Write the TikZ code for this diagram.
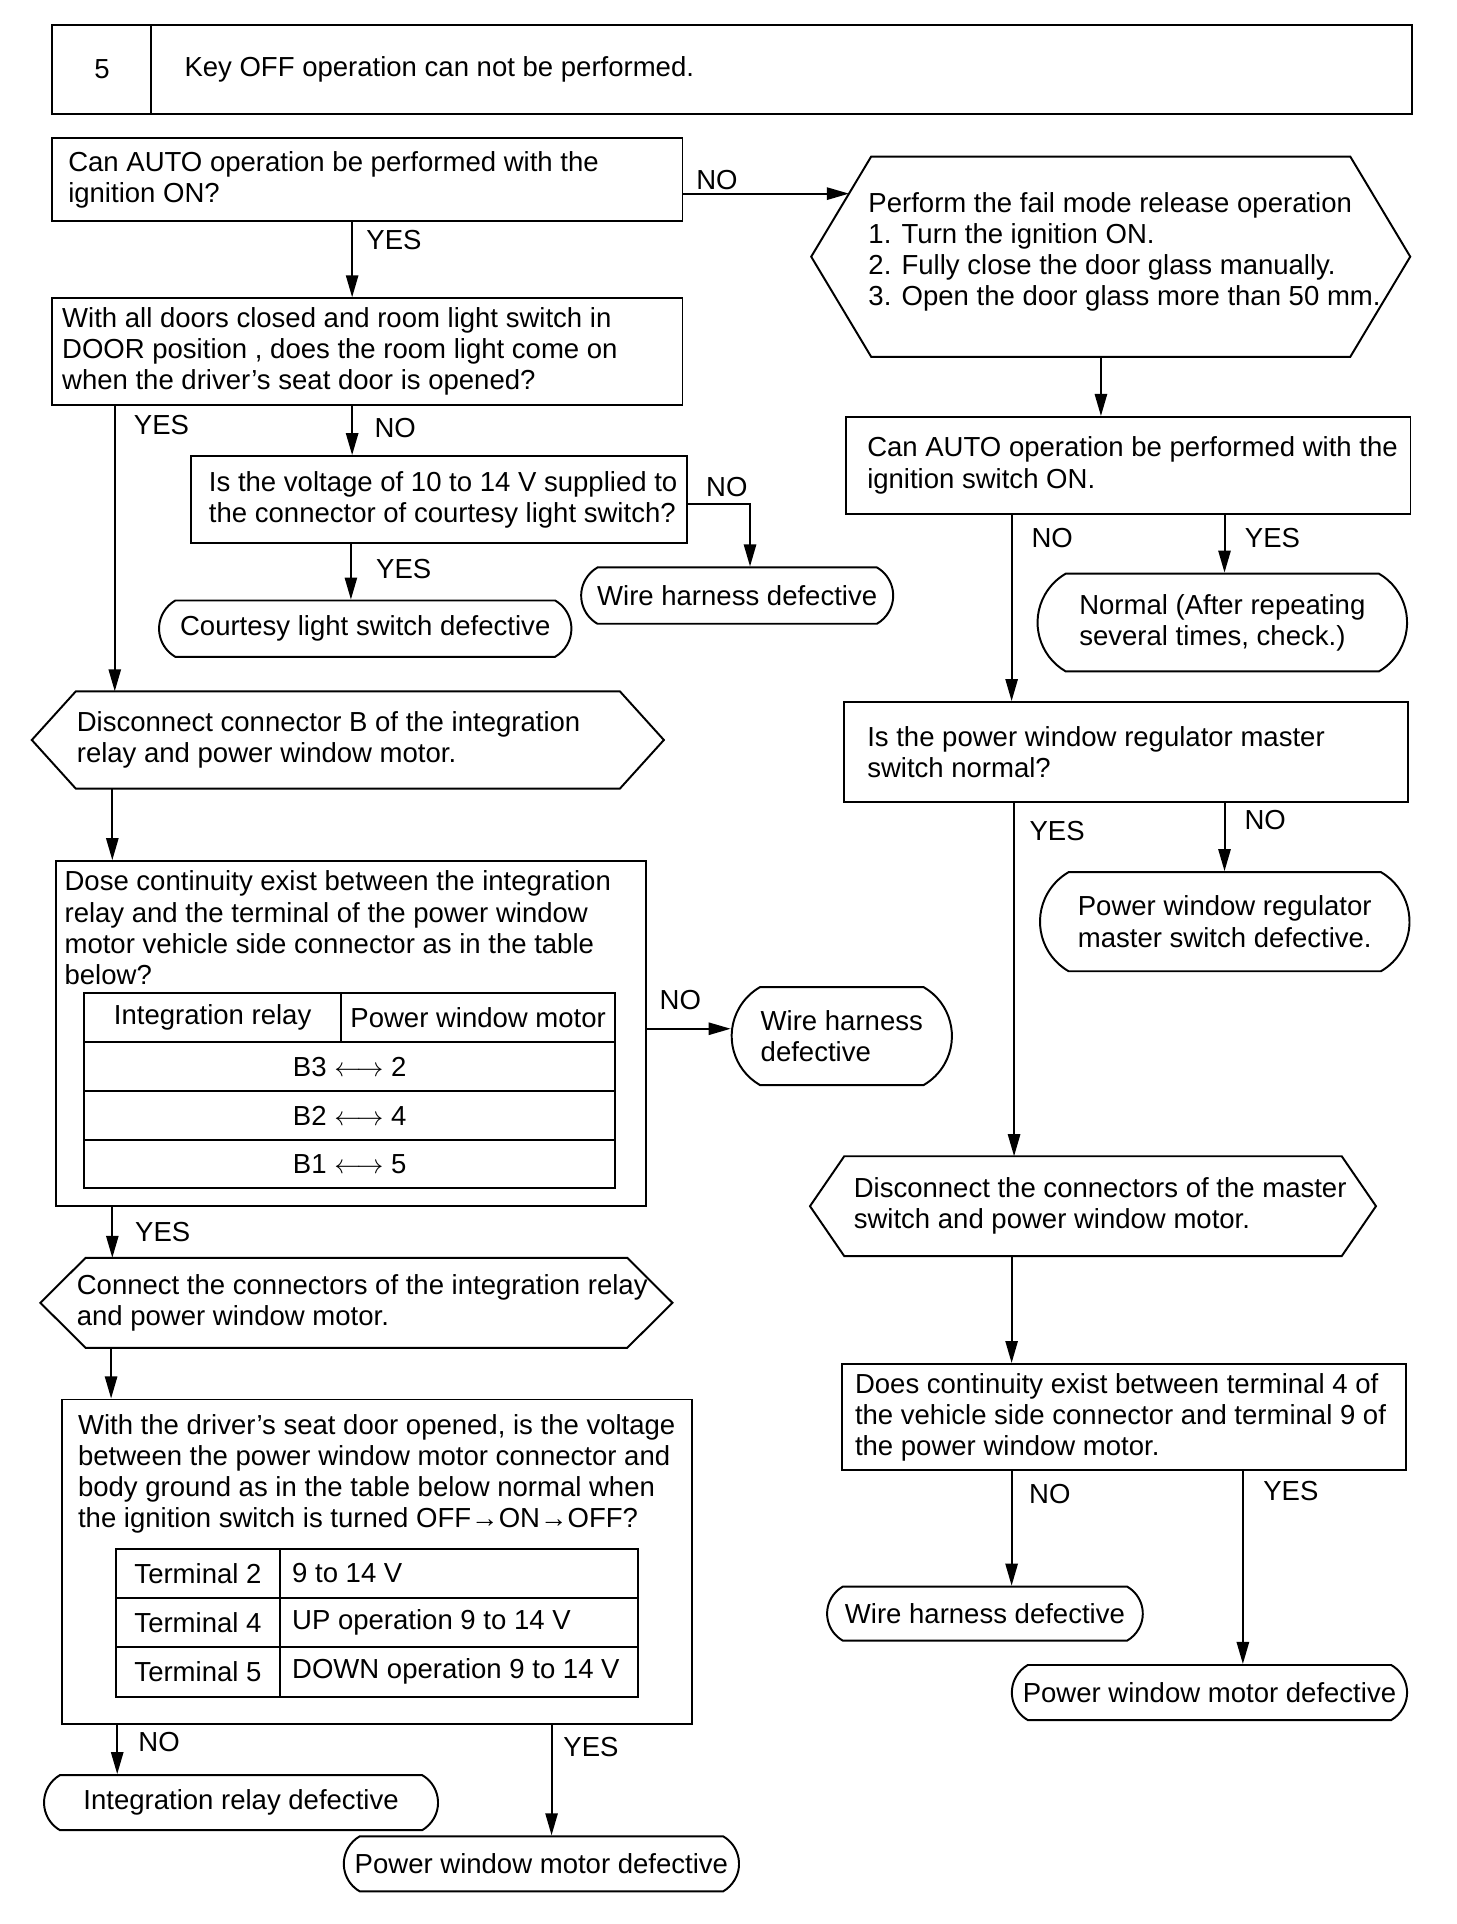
\documentclass[tikz,border=0pt]{standalone}
\usepackage{fontspec}
\setmainfont{Liberation Sans}
\usepackage{tikz}
\usetikzlibrary{positioning, arrows.meta, shapes.misc, calc}
\tikzstyle{qbox} = [
    rectangle,
    draw,
    anchor = north west,
    inner sep = 0pt
]
\tikzstyle{hexbox} = [
    rectangle,
    anchor = north west,
    inner sep = 0pt
]
\tikzstyle{txt} = [
    inner sep = 0pt,
    align = left
]
\tikzstyle{endbox} = [
    rounded rectangle,
    rounded rectangle arc length = 120,
    draw,
    anchor = north,
    inner sep = 0pt,
    align = left
]
\tikzstyle{cell} = [
    rectangle,
    draw,
    anchor = north west,
    inner sep = 0pt
]
\tikzstyle{lbl} = [inner sep = 0pt]
\tikzstyle{arr} = [-{Triangle[length=9pt, width=5pt]}]
\newcommand{\hexframe}[2]{%
    \draw (#1.west) -- ([xshift=#2]#1.north west) -- ([xshift=-#2]#1.north east)
        -- (#1.east) -- ([xshift=-#2]#1.south east) -- ([xshift=#2]#1.south west) -- cycle;}

\begin{document}
\begin{tikzpicture}[x=0.5pt, y=-0.5pt, line width=0.8pt, font=\fontsize{11.25}{12.75}\selectfont]
    \useasboundingbox (0,0) rectangle (1190,1572.5);

    % title
    \node[qbox, minimum width=40.5pt, minimum height=36pt] (num) at (42,20) {5};
    \node[qbox, minimum width=515pt, minimum height=36pt] (title) at (123,20) {};
    \node[txt, right=13.5pt of title.west] (titlet) {Key OFF operation can not be performed.};

    % left column
    \node[qbox, minimum width=257.5pt, minimum height=34pt] (auto) at (42,112) {};
    \node[txt, right=6.5pt of auto.west] (autot) {Can AUTO operation be performed with the\\ignition ON?};
    \node[qbox, minimum width=257.5pt, minimum height=43.5pt] (door) at (42,243) {};
    \node[txt, right=4pt of door.west] (doort)
        {With all doors closed and room light switch in\\DOOR position , does the room light come on\\when the driver’s seat door is opened?};
    \node[qbox, minimum width=203pt, minimum height=35.5pt] (volt) at (155,372) {};
    \node[txt, right=7.5pt of volt.west] (voltt) {Is the voltage of 10 to 14 V supplied to\\the connector of courtesy light switch?};
    \node[endbox, minimum width=127.5pt, minimum height=23pt] (wire1) at (602.5,463) {Wire harness defective};
    \node[endbox, minimum width=168.5pt, minimum height=23pt] (courtesy) at (298.5,490) {Courtesy light switch defective};

    \node[hexbox, minimum width=257.5pt, minimum height=39pt] (discB) at (26,565) {};
    \hexframe{discB}{18pt}
    \node[txt, right=18pt of discB.west] (discBt) {Disconnect connector B of the integration\\relay and power window motor.};

    \node[qbox, minimum width=241pt, minimum height=141pt] (cont) at (45,703) {};
    \node[txt, anchor=north west] (contt) at (52,711)
        {Dose continuity exist between the integration\\relay and the terminal of the power window\\motor vehicle side connector as in the table\\below?};
    \node[cell, minimum width=105pt, minimum height=20pt] (ch1) at (68,811) {Integration relay};
    \node[cell, minimum width=112pt, minimum height=20pt] (ch2) at (278,811) {Power window motor};
    \node[cell, minimum width=217pt, minimum height=20pt] (cr1) at (68,851) {B3 $\longleftrightarrow$ 2};
    \node[cell, minimum width=217pt, minimum height=20pt] (cr2) at (68,891) {B2 $\longleftrightarrow$ 4};
    \node[cell, minimum width=217pt, minimum height=19.5pt] (cr3) at (68,931) {B1 $\longleftrightarrow$ 5};
    \node[endbox, minimum width=90pt, minimum height=40pt] (wire2) at (688,806) {Wire harness\\defective};

    \node[hexbox, minimum width=257.5pt, minimum height=36pt] (conn) at (33,1028) {};
    \hexframe{conn}{18.5pt}
    \node[txt, right=14.5pt of conn.west] (connt) {Connect the connectors of the integration relay\\and power window motor.};

    \node[qbox, minimum width=257.5pt, minimum height=132.5pt] (volt2) at (50,1143) {};
    \node[txt, anchor=north west] (volt2t) at (63,1155)
        {With the driver’s seat door opened, is the voltage\\between the power window motor connector and\\body ground as in the table below normal when\\the ignition switch is turned OFF→ON→OFF?};
    \node[cell, minimum width=67pt, minimum height=20pt] (t21) at (94,1265) {Terminal 2};
    \node[cell, minimum width=146.5pt, minimum height=20pt] (t22) at (228,1265) {};
    \node[txt, right=5pt of t22.west] (t22t) {9 to 14 V};
    \node[cell, minimum width=67pt, minimum height=20pt] (t41) at (94,1305) {Terminal 4};
    \node[cell, minimum width=146.5pt, minimum height=20pt] (t42) at (228,1305) {};
    \node[txt, right=5pt of t42.west] (t42t) {UP operation 9 to 14 V};
    \node[cell, minimum width=67pt, minimum height=20.5pt] (t51) at (94,1345) {Terminal 5};
    \node[cell, minimum width=146.5pt, minimum height=20.5pt] (t52) at (228,1345) {};
    \node[txt, right=5pt of t52.west] (t52t) {DOWN operation 9 to 14 V};

    \node[endbox, minimum width=161pt, minimum height=22.5pt] (relay) at (197,1450) {Integration relay defective};
    \node[endbox, minimum width=161.5pt, minimum height=22.5pt] (motor1) at (442.5,1500) {Power window motor defective};

    % right column
    \node[hexbox, minimum width=244pt, minimum height=81pt] (fail) at (663,128) {};
    \hexframe{fail}{24.5pt}
    \node[txt, right=23pt of fail.west, yshift=2pt] (failt)
        {Perform the fail mode release operation\\1. Turn the ignition ON.\\2. Fully close the door glass manually.\\3. Open the door glass more than 50 mm.};
    \coordinate (failin) at ($(fail.west)!0.63!([xshift=24.5pt]fail.north west)$);

    \node[qbox, minimum width=230.5pt, minimum height=39.5pt] (auto2) at (691,340) {};
    \node[txt, right=8.5pt of auto2.west] (auto2t) {Can AUTO operation be performed with the\\ignition switch ON.};
    \node[endbox, minimum width=151pt, minimum height=40pt] (normal) at (999,468) {Normal (After repeating\\several times, check.)};
    \node[qbox, minimum width=230.5pt, minimum height=41pt] (master) at (689,573) {};
    \node[txt, right=9.5pt of master.west] (mastert) {Is the power window regulator master\\switch normal?};
    \node[endbox, minimum width=151pt, minimum height=40.5pt] (regul) at (1001,712) {Power window regulator\\master switch defective.};

    \node[hexbox, minimum width=230.5pt, minimum height=40pt] (discM) at (662,945) {};
    \hexframe{discM}{14pt}
    \node[txt, right=17.5pt of discM.west] (discMt) {Disconnect the connectors of the master\\switch and power window motor.};

    \node[qbox, minimum width=230.5pt, minimum height=43.5pt] (cont2) at (687,1114) {};
    \node[txt, right=5.5pt of cont2.west] (cont2t)
        {Does continuity exist between terminal 4 of\\the vehicle side connector and terminal 9 of\\the power window motor.};
    \node[endbox, minimum width=129pt, minimum height=22pt] (wire3) at (805,1296) {Wire harness defective};
    \node[endbox, minimum width=161.5pt, minimum height=22.5pt] (motor2) at (988.5,1360) {Power window motor defective};

    % connectors
    \draw[arr] ([xshift=-6.25pt]auto.south) -- ([xshift=-6.25pt]auto.south |- door.north);
    \draw[arr] (auto.east |- failin) -- (failin);
    \draw[arr] ([xshift=-103.25pt]door.south) -- ([xshift=-103.25pt]door.south |- discB.north);
    \draw[arr] ([xshift=-6.25pt]door.south) -- ([xshift=-6.25pt]door.south |- volt.north);
    \draw[arr] ([yshift=-1.75pt]volt.east) -| ([xshift=5.25pt]wire1.north);
    \draw[arr] ([xshift=-36pt]volt.south) -- ([xshift=-36pt]volt.south |- courtesy.north);
    \draw[arr] ([xshift=-96.25pt]discB.south) -- ([xshift=-96.25pt]discB.south |- cont.north);
    \draw[arr] ([yshift=2pt]cont.east) -- ([yshift=2pt]cont.east -| wire2.west);
    \draw[arr] ([xshift=-97.5pt]cont.south) -- ([xshift=-97.5pt]cont.south |- conn.north);
    \draw[arr] ([xshift=-100.25pt]conn.south) -- ([xshift=-100.25pt]conn.south |- volt2.north);
    \draw[arr] ([xshift=-106.25pt]volt2.south) -- ([xshift=-106.25pt]volt2.south |- relay.north);
    \draw[arr] ([xshift=71.25pt]volt2.south) -- ([xshift=71.25pt]volt2.south |- motor1.north);
    \draw[arr] ([xshift=-4pt]fail.south) -- ([xshift=-4pt]fail.south |- auto2.north);
    \draw[arr] ([xshift=-47.75pt]auto2.south) -- ([xshift=-47.75pt]auto2.south |- master.north);
    \draw[arr] ([xshift=39.25pt]auto2.south) -- ([xshift=39.25pt]auto2.south |- normal.north);
    \draw[arr] ([xshift=-45.75pt]master.south) -- ([xshift=-45.75pt]master.south |- discM.north);
    \draw[arr] ([xshift=40.25pt]master.south) -- ([xshift=40.25pt]master.south |- regul.north);
    \draw[arr] ([xshift=-33.25pt]discM.south) -- ([xshift=-33.25pt]discM.south |- cont2.north);
    \draw[arr] ([xshift=-45.75pt]cont2.south) -- ([xshift=-45.75pt]cont2.south |- wire3.north);
    \draw[arr] ([xshift=48.75pt]cont2.south) -- ([xshift=48.75pt]cont2.south |- motor2.north);

    % labels
    \node[lbl] (l1) at (322,196) {YES};
    \node[lbl] (l2) at (586,147) {NO};
    \node[lbl] (l3) at (132,347) {YES};
    \node[lbl] (l4) at (323,350) {NO};
    \node[lbl] (l5) at (594,398) {NO};
    \node[lbl] (l6) at (330,465) {YES};
    \node[lbl] (l7) at (556,817) {NO};
    \node[lbl] (l8) at (133,1007) {YES};
    \node[lbl] (l9) at (130,1424) {NO};
    \node[lbl] (l10) at (483,1428) {YES};
    \node[lbl] (l11) at (860,440) {NO};
    \node[lbl] (l12) at (1040,440) {YES};
    \node[lbl] (l13) at (864,679) {YES};
    \node[lbl] (l14) at (1034,670) {NO};
    \node[lbl] (l15) at (858,1221) {NO};
    \node[lbl] (l16) at (1055,1219) {YES};
\end{tikzpicture}
\end{document}
